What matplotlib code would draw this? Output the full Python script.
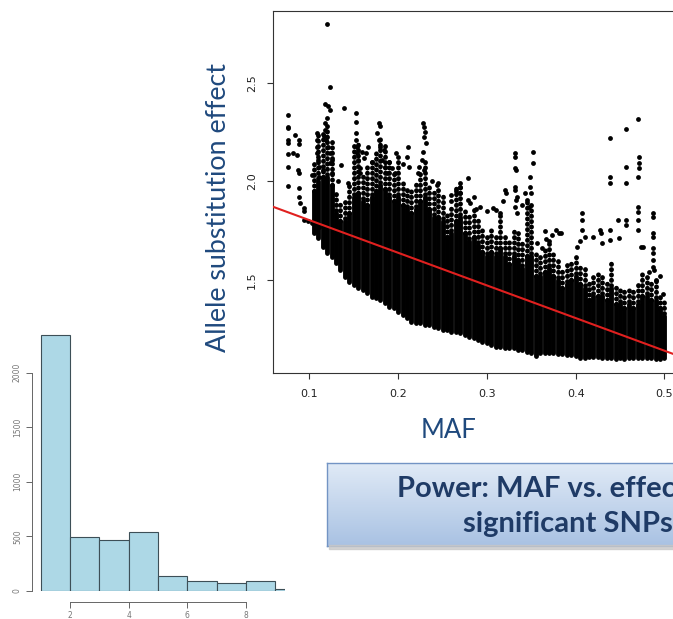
import numpy as np
import matplotlib.pyplot as plt
from matplotlib.colors import LinearSegmentedColormap
from matplotlib.patches import Rectangle

W, H = 673, 619

# ---- histogram data (bins 1..10) ----
hist_edges = [1, 2, 3, 4, 5, 6, 7, 8, 9, 10]
hist_counts = [2344, 497, 464, 537, 137, 94, 73, 94, 15]

# ---- scatter: dense part per MAF column ----
maf_cols = [0.105, 0.110, 0.115, 0.120, 0.125, 0.130, 0.135, 0.140, 0.145, 0.150,
            0.155, 0.160, 0.165, 0.170, 0.175, 0.180, 0.185, 0.190, 0.195, 0.200,
            0.205, 0.210, 0.215, 0.220, 0.225, 0.230, 0.235, 0.240, 0.245, 0.250,
            0.255, 0.260, 0.265, 0.270, 0.275, 0.280, 0.285, 0.290, 0.295, 0.300,
            0.305, 0.310, 0.315, 0.320, 0.325, 0.330, 0.335, 0.340, 0.345, 0.350,
            0.355, 0.360, 0.365, 0.370, 0.375, 0.380, 0.385, 0.390, 0.395, 0.400,
            0.405, 0.410, 0.415, 0.420, 0.425, 0.430, 0.435, 0.440, 0.445, 0.450,
            0.455, 0.460, 0.465, 0.470, 0.475, 0.480, 0.485, 0.490, 0.495, 0.500]
# bottom of the cloud
core_lo = [1.736, 1.711, 1.669, 1.635, 1.618, 1.584, 1.551, 1.517, 1.492, 1.475,
           1.458, 1.449, 1.432, 1.416, 1.407, 1.399, 1.382, 1.365, 1.356, 1.340,
           1.323, 1.306, 1.289, 1.280, 1.280, 1.272, 1.272, 1.264, 1.255, 1.247,
           1.247, 1.238, 1.238, 1.230, 1.221, 1.213, 1.204, 1.196, 1.188, 1.179,
           1.171, 1.162, 1.162, 1.154, 1.154, 1.154, 1.145, 1.145, 1.137, 1.128,
           1.115, 1.128, 1.128, 1.132, 1.128, 1.125, 1.125, 1.120, 1.120, 1.115,
           1.103, 1.103, 1.108, 1.111, 1.108, 1.103, 1.103, 1.103, 1.098, 1.103,
           1.098, 1.103, 1.103, 1.103, 1.106, 1.106, 1.103, 1.098, 1.098, 1.103]
# top of the solid black part
core_mid = [1.95, 2.00, 2.02, 2.02, 1.98, 1.84, 1.80, 1.80, 1.84, 1.92,
            1.94, 1.90, 1.88, 1.92, 1.95, 1.98, 1.96, 1.92, 1.90, 1.92,
            1.88, 1.86, 1.84, 1.86, 1.90, 1.92, 1.86, 1.82, 1.82, 1.80,
            1.72, 1.74, 1.80, 1.82, 1.74, 1.70, 1.72, 1.68, 1.64, 1.62,
            1.64, 1.62, 1.66, 1.62, 1.58, 1.62, 1.60, 1.56, 1.62, 1.62,
            1.52, 1.52, 1.54, 1.56, 1.52, 1.50, 1.46, 1.48, 1.50, 1.52,
            1.48, 1.46, 1.40, 1.42, 1.42, 1.42, 1.40, 1.46, 1.38, 1.38,
            1.36, 1.38, 1.36, 1.38, 1.42, 1.42, 1.40, 1.40, 1.36, 1.32]
# top of the dotted streaks above it
core_hi = [2.10, 2.25, 2.25, 2.28, 2.20, 1.95, 1.90, 1.92, 1.98, 2.20,
           2.20, 2.05, 2.08, 2.12, 2.15, 2.22, 2.20, 2.10, 2.05, 2.10,
           2.00, 1.98, 1.95, 2.00, 2.05, 2.10, 1.98, 1.95, 1.97, 1.93,
           1.838, 1.872, 1.973, 1.973, 1.872, 1.838, 1.872, 1.804, 1.753, 1.736,
           1.770, 1.736, 1.838, 1.736, 1.703, 1.770, 1.736, 1.703, 1.905, 1.905,
           1.635, 1.635, 1.652, 1.703, 1.635, 1.618, 1.568, 1.584, 1.601, 1.635,
           1.584, 1.568, 1.500, 1.534, 1.534, 1.517, 1.500, 1.601, 1.466, 1.466,
           1.449, 1.466, 1.449, 1.483, 1.551, 1.534, 1.500, 1.500, 1.432, 1.399]

# ---- scatter: sparse points above / around the cloud ----
sparse_maf = [0.076, 0.076, 0.076, 0.076, 0.076, 0.076, 0.076, 0.076,
              0.0835, 0.088, 0.088, 0.082, 0.086, 0.087, 0.088, 0.088, 0.088, 0.089,
              0.094, 0.094, 0.094, 0.1035, 0.111, 0.1026, 0.098,
              0.1195, 0.1233, 0.118, 0.121, 0.123, 0.139,
              0.109, 0.109, 0.109, 0.109, 0.110, 0.111, 0.111,
              0.118, 0.118, 0.119, 0.121, 0.123, 0.123, 0.125, 0.120, 0.117, 0.125, 0.115,
              0.136, 0.143, 0.132,
              0.153, 0.153, 0.153, 0.153, 0.154, 0.154, 0.155, 0.157, 0.159, 0.161, 0.157,
              0.166, 0.164, 0.170,
              0.178, 0.180, 0.176, 0.178, 0.180, 0.184, 0.182, 0.185, 0.187, 0.190, 0.193,
              0.198, 0.200, 0.196, 0.211, 0.210, 0.212, 0.205,
              0.228, 0.229, 0.230, 0.229, 0.231, 0.228, 0.227, 0.229, 0.224, 0.222,
              0.245, 0.244, 0.238, 0.260, 0.270, 0.270, 0.279, 0.270,
              0.279, 0.281, 0.292, 0.285, 0.288, 0.259, 0.265,
              0.307, 0.310, 0.315, 0.300, 0.320, 0.321, 0.318,
              0.332, 0.332, 0.332, 0.333, 0.332, 0.332, 0.334, 0.333, 0.332, 0.334,
              0.352, 0.352, 0.348, 0.349, 0.350, 0.343, 0.345, 0.347, 0.340,
              0.362, 0.367, 0.373, 0.378, 0.381, 0.383, 0.365, 0.370, 0.357,
              0.407, 0.407, 0.407, 0.410, 0.405, 0.402,
              0.427, 0.429, 0.420, 0.430,
              0.439, 0.439, 0.439, 0.439, 0.439, 0.448, 0.449,
              0.4565, 0.4565, 0.4565, 0.4565, 0.4565,
              0.470, 0.471, 0.471, 0.471, 0.470, 0.470, 0.470, 0.470, 0.470,
              0.474, 0.4755,
              0.487, 0.487, 0.487, 0.487, 0.487, 0.487, 0.487, 0.487, 0.488,
              0.483, 0.495, 0.498, 0.490]
sparse_eff = [2.336, 2.277, 2.269, 2.209, 2.196, 2.139, 2.071, 1.978,
              2.235, 2.209, 2.188, 2.142, 2.133, 2.057, 2.040, 1.965, 1.922, 1.889,
              1.863, 1.851, 1.804, 1.791, 1.770, 2.032, 1.800,
              2.797, 2.476, 2.392, 2.382, 2.361, 2.370,
              2.243, 2.209, 2.176, 2.142, 2.108, 2.074, 2.024,
              2.294, 2.260, 2.209, 2.176, 2.142, 2.091, 2.041, 2.320, 2.230, 2.110, 2.060,
              2.083, 1.993, 2.000,
              2.345, 2.302, 2.243, 2.209, 2.176, 2.142, 2.108, 2.040, 2.150, 2.120, 2.070,
              2.176, 2.142, 2.100,
              2.294, 2.280, 2.243, 2.209, 2.176, 2.159, 2.108, 2.074, 2.041, 2.100, 2.070,
              2.142, 2.125, 2.040, 2.176, 2.125, 2.074, 2.090,
              2.294, 2.277, 2.252, 2.226, 2.193, 2.150, 2.108, 2.057, 2.074, 2.040,
              1.990, 1.980, 2.000, 1.930, 1.990, 1.973, 2.015, 1.939,
              1.905, 1.889, 1.872, 1.922, 1.860, 1.900, 1.950,
              1.863, 1.855, 1.838, 1.850, 1.956, 1.939, 1.900,
              2.142, 2.125, 2.066, 2.057, 1.973, 1.956, 1.922, 1.905, 1.872, 1.838,
              2.150, 2.095, 2.024, 1.973, 1.939, 1.939, 1.905, 1.872, 1.880,
              1.660, 1.710, 1.730, 1.753, 1.737, 1.740, 1.750, 1.700, 1.690,
              1.838, 1.804, 1.753, 1.720, 1.700, 1.670,
              1.753, 1.736, 1.720, 1.690,
              2.218, 2.024, 1.993, 1.753, 1.703, 1.804, 1.711,
              2.264, 2.074, 1.993, 1.804, 1.779,
              2.316, 2.125, 2.091, 2.066, 2.024, 1.872, 1.846, 1.804, 1.753,
              1.666, 1.669,
              1.838, 1.821, 1.736, 1.720, 1.660, 1.635, 1.601, 1.568, 1.551,
              1.540, 1.520, 1.430, 1.500]

# least squares line
fit_intercept = 1.969
fit_slope = -1.654

x_ticks = [0.1, 0.2, 0.3, 0.4, 0.5]
y_ticks = [1.5, 2.0, 2.5]

slide_blue = '#1F497D'
box_text = '#1F3B66'


def rect(left, top, right, bottom):
    # pixel box -> figure fraction
    return [left / W, 1 - bottom / H, (right - left) / W, (bottom - top) / H]


fig = plt.figure(figsize=(W / 100, H / 100), dpi=100)
fig.patch.set_facecolor('white')

# ---------------- histogram ----------------
ah = fig.add_axes(rect(31.7, 328.9, 284.5, 591))
ah.bar(hist_edges[:-1], hist_counts, width=1, align='edge',
       color='#ADD8E6', edgecolor='#3d4f57', linewidth=0.8)
ah.set_xlim(0.693, 9.32)
ah.set_ylim(0, 2400)
for s in ['top', 'right']:
    ah.spines[s].set_visible(False)
ah.spines['left'].set_bounds(0, 2000)
ah.spines['bottom'].set_bounds(2, 8)
ah.spines['bottom'].set_position(('outward', 7.7))
for s in ['left', 'bottom']:
    ah.spines[s].set_color('#666666')
    ah.spines[s].set_linewidth(0.7)
ah.set_yticks([0, 500, 1000, 1500, 2000])
ah.set_xticks([2, 4, 6, 8])
ah.tick_params(axis='both', length=4, width=0.7, color='#666666',
               labelsize=5.5, labelcolor='#777777', pad=3)
for lab in ah.get_yticklabels():
    lab.set_rotation(90)
    lab.set_va('center')

# ---------------- scatter ----------------
ax = fig.add_axes(rect(273, 10.7, 679.5, 373))
ax.vlines(maf_cols, core_lo, core_mid, colors='black', linewidth=3.5,
          capstyle='round', zorder=2)
# streaks of stacked points above the solid part
for i, (x, y0, y1) in enumerate(zip(maf_cols, core_mid, core_hi)):
    ax.plot([x, x], [y0, y1], color='black', lw=3.5,
            linestyle=((i % 2) * 0.55, (0.05, 1.05)),
            dash_capstyle='round', zorder=2)
ax.scatter(sparse_maf, sparse_eff, s=12, c='black', linewidths=0, zorder=2)
ax.axline((0, fit_intercept), slope=fit_slope, color='#E0201F', lw=1.5, zorder=3)
ax.set_xlim(0.059, 0.517)
ax.set_ylim(1.029, 2.865)
ax.set_xticks(x_ticks)
ax.set_xticklabels(['0.1', '0.2', '0.3', '0.4', '0.5'])
ax.set_yticks(y_ticks)
ax.set_yticklabels(['1.5', '2.0', '2.5'])
for s in ax.spines.values():
    s.set_color('#333333')
    s.set_linewidth(0.8)
ax.tick_params(axis='both', length=4.3, width=0.8, color='#333333',
               labelsize=8, labelcolor='#222222', pad=7)
for lab in ax.get_yticklabels():
    lab.set_rotation(90)
    lab.set_va('center')
for lab in ax.get_xticklabels() + ax.get_yticklabels():
    lab.set_family('DejaVu Sans')

# slide labels
fig.text(219 / W, 1 - 207 / H, 'Allele substitution effect', rotation=90,
         ha='center', va='center', fontsize=19.3, family='Lato', color=slide_blue)
fig.text(449 / W, 1 - 438.3 / H, 'MAF', ha='center', va='baseline',
         fontsize=18.5, family='Lato', color=slide_blue)

# ---------------- title box ----------------
fig.patches.append(Rectangle((329 / W, 1 - 549 / H), 360 / W, 4 / H,
                             transform=fig.transFigure, color='#c8c8c8',
                             alpha=0.8, zorder=1))
ab = fig.add_axes(rect(327, 463, 700, 546))
grad = np.linspace(0, 1, 100).reshape(-1, 1)
cmap = LinearSegmentedColormap.from_list('box', ['#E0EAF6', '#A9C2E3'])
ab.imshow(grad, aspect='auto', cmap=cmap, extent=[0, 1, 0, 1], origin='upper')
ab.set_xticks([])
ab.set_yticks([])
for s in ab.spines.values():
    s.set_color('#7394C4')
    s.set_linewidth(1.0)

fig.text(397 / W, 1 - 497 / H, 'Power: MAF vs. effect size', ha='left',
         va='baseline', fontsize=21, fontweight='bold', family='Lato',
         color=box_text, zorder=5)
fig.text(463 / W, 1 - 532 / H, 'significant SNPs', ha='left',
         va='baseline', fontsize=21, fontweight='bold', family='Lato',
         color=box_text, zorder=5)

fig.savefig('out.png', dpi=100)
